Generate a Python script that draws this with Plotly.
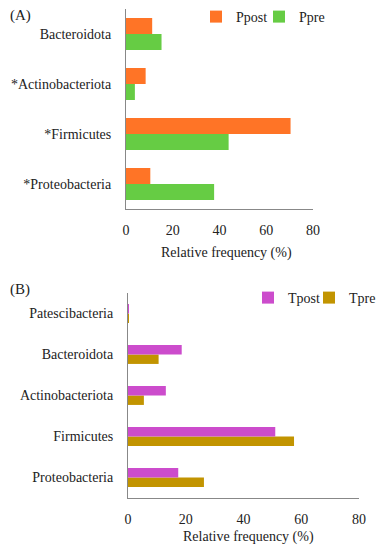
import plotly.graph_objects as go

# Panel A
cats_a = ["*Proteobacteria", "*Firmicutes", "*Actinobacteriota", "Bacteroidota"]
ppre = [37.7, 43.9, 3.8, 15.2]
ppost = [10.4, 70.4, 8.4, 11.2]

# Panel B
cats_b = ["Proteobacteria", "Firmicutes", "Actinobacteriota", "Bacteroidota", "Patescibacteria"]
tpre = [26.3, 57.5, 5.5, 10.6, 0.2]
tpost = [17.4, 51.0, 13.1, 18.6, 0.3]

xticks = [0, 20, 40, 60, 80]

SERIF = "Liberation Serif"
TXT = "#222222"

# page has an 8px body margin: work in page pixels and convert
OFF = 8
W, H = 385 - OFF, 550 - OFF


def px(x):
    return (x - OFF) / W


def py(y):
    return 1 - (y - OFF) / H


WA = 0.32   # single bar thickness (category units), panel A
WB = 0.23   # panel B

fig = go.Figure()
fig.add_trace(go.Bar(y=cats_a, x=ppre, orientation="h", name="Ppre", width=WA, offset=-WA,
                     marker=dict(color="#66CC44", line=dict(width=0)),
                     xaxis="x", yaxis="y", legend="legend2"))
fig.add_trace(go.Bar(y=cats_a, x=ppost, orientation="h", name="Ppost", width=WA, offset=0,
                     marker=dict(color="#FF7426", line=dict(width=0)),
                     xaxis="x", yaxis="y", legend="legend"))
fig.add_trace(go.Bar(y=cats_b, x=tpre, orientation="h", name="Tpre", width=WB, offset=-WB,
                     marker=dict(color="#C29400", line=dict(width=0)),
                     xaxis="x2", yaxis="y2", legend="legend4"))
fig.add_trace(go.Bar(y=cats_b, x=tpost, orientation="h", name="Tpost", width=WB, offset=0,
                     marker=dict(color="#CC4CCC", line=dict(width=0)),
                     xaxis="x2", yaxis="y2", legend="legend3"))

axis_common = dict(showgrid=False, zeroline=False, showline=True, linecolor="#888888",
                   linewidth=1, automargin=False,
                   tickfont=dict(family=SERIF, size=14, color=TXT))


def leg(text_x, text_y):
    # legend text starts ~40px right of legend's left edge, centred ~14px below its top
    return dict(x=px(text_x - 40), y=py(text_y - 14), xanchor="left", yanchor="top",
                orientation="h", font=dict(family=SERIF, size=14, color=TXT),
                bgcolor="rgba(0,0,0,0)", itemwidth=30)


fig.update_layout(
    width=W, height=H, margin=dict(l=0, r=0, t=0, b=0, autoexpand=False),
    paper_bgcolor="white", plot_bgcolor="white",
    barmode="overlay", showlegend=True,
    xaxis=dict(domain=[px(126), px(313)], anchor="y", range=[0, 80], tickvals=xticks,
               ticks="outside", ticklen=8, tickcolor="rgba(0,0,0,0)", **axis_common),
    yaxis=dict(domain=[py(209), py(9)], anchor="x", ticks="outside", ticklen=11,
               tickcolor="rgba(0,0,0,0)", **axis_common),
    xaxis2=dict(domain=[px(128), px(359)], anchor="y2", range=[0, 80], tickvals=xticks,
                ticks="outside", ticklen=8, tickcolor="rgba(0,0,0,0)", **axis_common),
    yaxis2=dict(domain=[py(498), py(293)], anchor="x2", ticks="outside", ticklen=11,
                tickcolor="rgba(0,0,0,0)", **axis_common),
    legend=leg(236, 15),
    legend2=leg(299, 15),
    legend3=leg(288, 296),
    legend4=leg(349, 296),
    annotations=[
        dict(text="(A)", x=px(8), y=py(15), xref="paper", yref="paper", showarrow=False,
             xanchor="left", yanchor="middle", font=dict(family=SERIF, size=15, color=TXT)),
        dict(text="(B)", x=px(8), y=py(290), xref="paper", yref="paper", showarrow=False,
             xanchor="left", yanchor="middle", font=dict(family=SERIF, size=15, color=TXT)),
        dict(text="Relative frequency (%)", x=px(226), y=py(253), xref="paper", yref="paper",
             showarrow=False, xanchor="center", yanchor="middle",
             font=dict(family=SERIF, size=14, color=TXT)),
        dict(text="Relative frequency (%)", x=px(248), y=py(537), xref="paper", yref="paper",
             showarrow=False, xanchor="center", yanchor="middle",
             font=dict(family=SERIF, size=14, color=TXT)),
    ],
)

fig.write_html("out.html")
